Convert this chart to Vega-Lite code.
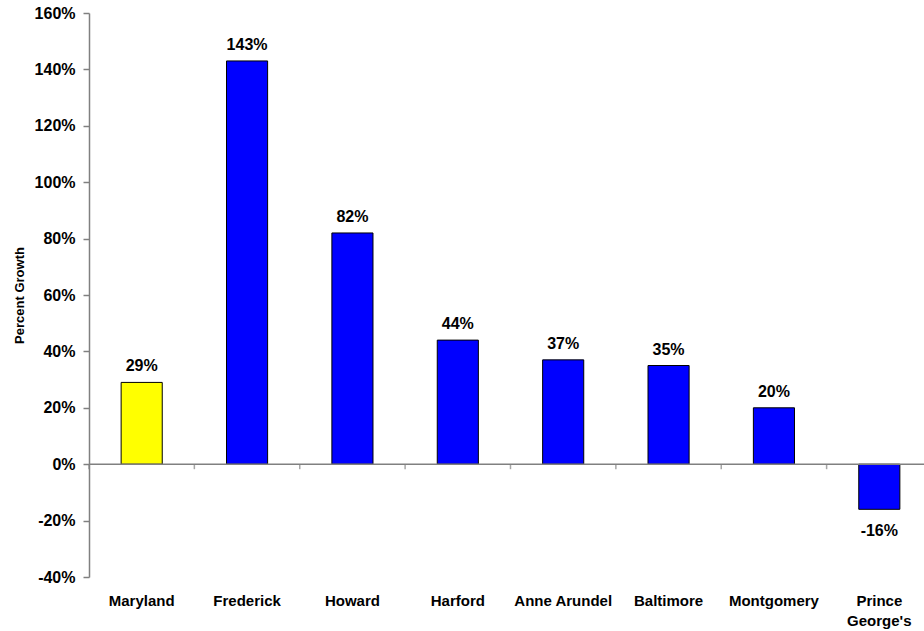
{
  "$schema": "https://vega.github.io/schema/vega-lite/v6.json",
  "autosize": {"type": "none"},
  "width": 843,
  "height": 564,
  "padding": {"left": 89, "top": 13, "right": 0, "bottom": 54},
  "background": "white",
  "config": {
    "view": {"stroke": null},
    "font": "Liberation Sans"
  },
  "data": {
    "values": [
      {"area": "Maryland", "growth": 0.29, "group": "state"},
      {"area": "Frederick", "growth": 1.43, "group": "county"},
      {"area": "Howard", "growth": 0.82, "group": "county"},
      {"area": "Harford", "growth": 0.44, "group": "county"},
      {"area": "Anne Arundel", "growth": 0.37, "group": "county"},
      {"area": "Baltimore", "growth": 0.35, "group": "county"},
      {"area": "Montgomery", "growth": 0.20, "group": "county"},
      {"area": "Prince George's", "growth": -0.16, "group": "county"}
    ]
  },
  "transform": [
    {"calculate": "round(datum.growth * 100) + '%'", "as": "label"}
  ],
  "encoding": {
    "x": {
      "field": "area",
      "type": "nominal",
      "sort": null,
      "scale": {"paddingInner": 0.61, "paddingOuter": 0.305},
      "axis": {
        "title": null,
        "orient": "bottom",
        "domain": false,
        "ticks": false,
        "labelAngle": 0,
        "labelPadding": 16,
        "labelFont": "Liberation Sans",
        "labelFontWeight": "bold",
        "labelFontSize": 15,
        "labelColor": "#000000",
        "labelLineHeight": 20,
        "labelExpr": "datum.value === \"Prince George's\" ? ['Prince', \"George's\"] : datum.value"
      }
    }
  },
  "layer": [
    {
      "mark": {"type": "bar", "stroke": "#000000", "strokeWidth": 1},
      "encoding": {
        "y": {
          "field": "growth",
          "type": "quantitative",
          "scale": {"domain": [-0.4, 1.6], "nice": false, "zero": false},
          "axis": {
            "title": "Percent Growth",
            "titleFont": "Liberation Sans",
            "titleFontWeight": "bold",
            "titleFontSize": 13,
            "titleColor": "#000000",
            "titleX": -70,
            "titleY": 282,
            "titleAngle": -90,
            "titleAlign": "center",
            "titleBaseline": "middle",
            "values": [-0.4, -0.2, 0, 0.2, 0.4, 0.6, 0.8, 1.0, 1.2, 1.4, 1.6],
            "labelExpr": "replace(datum.label, '\u2212', '-')",
            "format": ".0%",
            "grid": false,
            "domainColor": "#808080",
            "domainWidth": 1.5,
            "tickColor": "#808080",
            "tickSize": 6,
            "tickWidth": 1.5,
            "labelPadding": 8,
            "labelFont": "Liberation Sans",
            "labelFontWeight": "bold",
            "labelFontSize": 16,
            "labelColor": "#000000"
          }
        },
        "fill": {
          "field": "group",
          "type": "nominal",
          "scale": {"domain": ["state", "county"], "range": ["#FFFF00", "#0000FF"]},
          "legend": null
        }
      }
    },
    {
      "mark": {"type": "rule", "color": "#808080", "strokeWidth": 1.5},
      "data": {"values": [{"zero": 0}]},
      "encoding": {
        "y": {"field": "zero", "type": "quantitative"},
        "x": {"value": 0},
        "x2": {"value": 843}
      }
    },
    {
      "mark": {"type": "tick", "orient": "vertical", "color": "#808080", "thickness": 1.5, "size": 5, "yOffset": 2.5, "xOffset": -52.7},
      "encoding": {
        "y": {"datum": 0, "type": "quantitative"}
      }
    },
    {
      "transform": [{"filter": "datum.growth >= 0"}],
      "mark": {"type": "text", "baseline": "bottom", "dy": -8, "font": "Liberation Sans", "fontWeight": "bold", "fontSize": 16, "color": "#000000"},
      "encoding": {
        "y": {"field": "growth", "type": "quantitative"},
        "text": {"field": "label", "type": "nominal"}
      }
    },
    {
      "transform": [{"filter": "datum.growth < 0"}],
      "mark": {"type": "text", "baseline": "top", "dy": 14, "font": "Liberation Sans", "fontWeight": "bold", "fontSize": 16, "color": "#000000"},
      "encoding": {
        "y": {"field": "growth", "type": "quantitative"},
        "text": {"field": "label", "type": "nominal"}
      }
    }
  ]
}
